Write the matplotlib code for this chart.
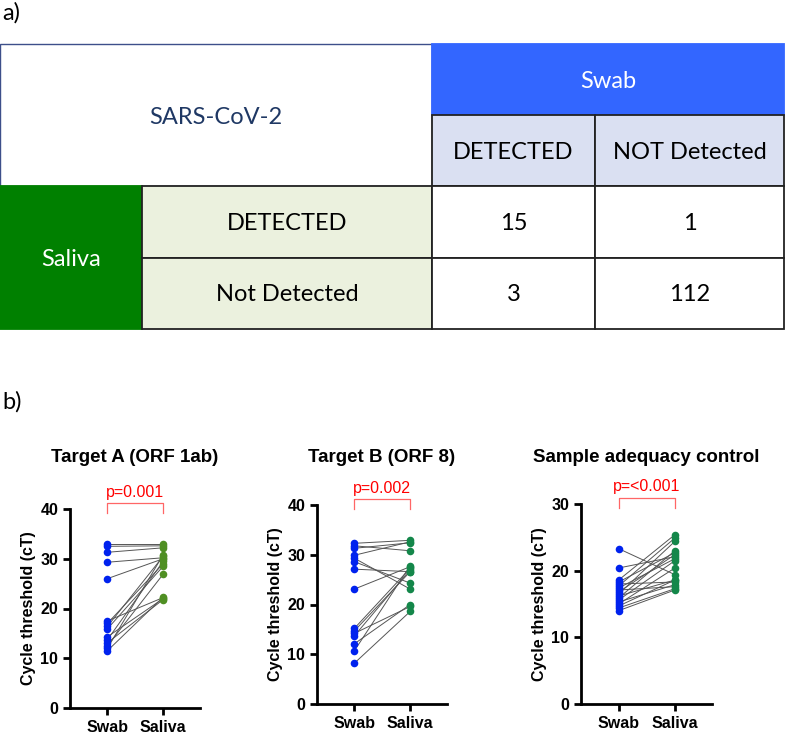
import matplotlib
matplotlib.use("Agg")
import matplotlib.pyplot as plt
from matplotlib.patches import Rectangle

plt.rcParams["font.family"] = ["Liberation Sans", "DejaVu Sans"]

# --- table a) ---
row_labels = ["DETECTED", "Not Detected"]
col_labels = ["DETECTED", "NOT Detected"]
counts = [[15, 1], [3, 112]]

# --- panel b) paired cT values (swab[i] paired with saliva[i]) ---
titles = ["Target A (ORF 1ab)", "Target B (ORF 8)", "Sample adequacy control"]
pvals = ["p=0.001", "p=0.002", "p=<0.001"]
ylims = [40, 40, 30]

swab_a = [33.0, 32.5, 31.3, 29.3, 26.0, 17.5, 17.0, 16.4, 15.9, 14.3, 13.7, 13.1, 12.5, 12.0, 11.5]
saliva_a = [33.0, 32.6, 32.2, 30.2, 30.0, 22.2, 29.0, 30.5, 28.5, 22.0, 29.5, 21.8, 26.9, 30.8, 22.3]

swab_b = [32.3, 31.8, 31.3, 29.9, 29.3, 28.6, 27.1, 23.1, 15.2, 14.7, 14.2, 13.7, 12.1, 10.7, 8.2]
saliva_b = [32.9, 30.8, 32.4, 32.6, 23.1, 24.3, 26.6, 27.6, 27.3, 26.6, 19.6, 27.0, 20.0, 27.8, 18.6]

swab_c = [23.3, 20.4, 18.6, 18.3, 18.0, 17.7, 17.4, 17.1, 16.8, 16.5, 16.2, 15.9, 15.6, 15.3, 15.0, 14.7, 14.4, 14.0]
saliva_c = [19.4, 22.1, 25.4, 22.7, 18.3, 24.9, 21.8, 17.6, 22.4, 24.4, 18.6, 23.0, 21.5, 17.9, 20.4, 18.6, 17.3, 17.1]

swab_all = [swab_a, swab_b, swab_c]
saliva_all = [saliva_a, saliva_b, saliva_c]
saliva_colors = ["#4f8f23", "#14874a", "#14874a"]

W, H = 787, 748
fig = plt.figure(figsize=(W / 100, H / 100), dpi=100)

# table drawn in pixel coordinates on a full-figure axes
tab = fig.add_axes([0, 0, 1, 1])
tab.set_xlim(0, W)
tab.set_ylim(H, 0)
tab.axis("off")

tfont = dict(family=["Lato", "DejaVu Sans"], fontsize=17, ha="center", va="center")
xs = [0, 142, 432, 595, 784]
ys = [44, 115, 186, 258, 329]

def cell(x0, y0, x1, y1, fc, ec="#222222", lw=1.3):
    tab.add_patch(Rectangle((x0, y0), x1 - x0, y1 - y0, fc=fc, ec=ec, lw=lw))

cell(xs[0], ys[0], xs[2], ys[2], "white", ec="#3d4f8a", lw=1.0)
tab.text((xs[0] + xs[2]) / 2, 117, "SARS-CoV-2", color="#1f3864", **tfont)
cell(xs[2], ys[0], xs[4], ys[1], "#3366ff", ec="#3366ff")
tab.text((xs[2] + xs[4]) / 2, 81, "Swab", color="white", **tfont)
for j, lab in enumerate(col_labels):
    cell(xs[2 + j], ys[1], xs[3 + j], ys[2], "#dae0f2")
    tab.text((xs[2 + j] + xs[3 + j]) / 2, (ys[1] + ys[2]) / 2 + 2, lab, color="black", **tfont)
cell(xs[0], ys[2], xs[1], ys[4], "#008000", ec="#008000")
tab.text((xs[0] + xs[1]) / 2, (ys[2] + ys[4]) / 2 + 2, "Saliva", color="white", **tfont)
for i, lab in enumerate(row_labels):
    cell(xs[1], ys[2 + i], xs[2], ys[3 + i], "#ebf1de")
    tab.text((xs[1] + xs[2]) / 2, (ys[2 + i] + ys[3 + i]) / 2 + 1, lab, color="black", **tfont)
    for j in range(2):
        cell(xs[2 + j], ys[2 + i], xs[3 + j], ys[3 + i], "white")
        tab.text((xs[2 + j] + xs[3 + j]) / 2, (ys[2 + i] + ys[3 + i]) / 2 + 1,
                 str(counts[i][j]), color="black", **tfont)

tab.text(2, 13, "a)", family=["Lato", "DejaVu Sans"], fontsize=17, va="center")
tab.text(2, 402, "b)", family=["Lato", "DejaVu Sans"], fontsize=17, va="center")

# paired dot plots
boxes = [(70, 509, 130, 199), (317, 505, 130, 199), (581, 504, 131, 200)]
for k in range(3):
    x0, y0, w, h = boxes[k]
    ax = fig.add_axes([x0 / W, 1 - (y0 + h) / H, w / W, h / H])
    for s, v in zip(swab_all[k], saliva_all[k]):
        ax.plot([0, 1], [s, v], color="#555555", lw=0.7, zorder=1)
    ax.scatter([0] * len(swab_all[k]), swab_all[k], s=30, color="#0022ee", zorder=3, lw=0)
    ax.scatter([1] * len(saliva_all[k]), saliva_all[k], s=30, color=saliva_colors[k], zorder=3, lw=0)
    top = ylims[k]
    ax.set_xlim(-0.67, 1.66)
    ax.set_ylim(0, top)
    ax.set_yticks(range(0, top + 1, 10))
    ax.set_xticks([0, 1])
    ax.set_xticklabels(["Swab", "Saliva"])
    for sp in ["top", "right"]:
        ax.spines[sp].set_visible(False)
    for sp in ["left", "bottom"]:
        ax.spines[sp].set_linewidth(2)
    ax.tick_params(width=2, length=5, labelsize=11.5)
    for lab in ax.get_xticklabels() + ax.get_yticklabels():
        lab.set_fontweight("bold")
    ax.set_ylabel("Cycle threshold (cT)", fontsize=11.5, fontweight="bold", labelpad=3)
    ax.patch.set_alpha(0)
    # significance bracket
    yb, yl = top * 1.03, top * 0.98
    ax.plot([0, 0, 1, 1], [yl, yb, yb, yl], color="#ff6666", lw=0.9, clip_on=False)
    ax.text(0.5, top * 1.085, pvals[k], color="red", fontsize=11.5, ha="center", va="center")
    fig.text((x0 + w / 2) / W, 1 - 458 / H, titles[k], fontsize=13.5, fontweight="bold",
             ha="center", va="center")

fig.savefig("out.png", dpi=100)
